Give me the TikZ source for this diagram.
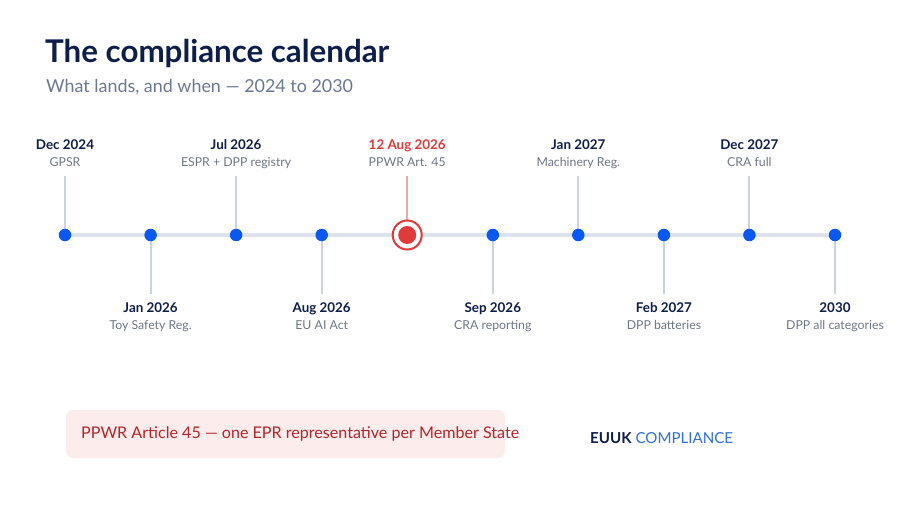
\documentclass[tikz,border=0pt]{standalone}
\usepackage{fontspec}
\setmainfont{Lato}
\usetikzlibrary{calc}
\definecolor{navy}{HTML}{0E1E4A}
\definecolor{subgray}{HTML}{6B7894}
\definecolor{lblgray}{HTML}{6E7689}
\definecolor{trackc}{HTML}{DDE3EC}
\definecolor{stemc}{HTML}{C9D3E1}
\definecolor{dotblue}{HTML}{0A58F0}
\definecolor{hired}{HTML}{E03A3A}
\definecolor{stemred}{HTML}{F2A7A7}
\definecolor{calloutbg}{HTML}{FDECEC}
\definecolor{callouttx}{HTML}{B3262B}
\definecolor{brandblue}{HTML}{2F6FE6}
\tikzset{
  dotnode/.style={circle,fill=dotblue,inner sep=0pt,minimum size=12.5pt},
  datelbl/.style={font=\fontsize{13.4}{15}\selectfont\bfseries,text=navy,inner sep=0pt,anchor=base},
  desclbl/.style={font=\fontsize{12.3}{14}\selectfont,text=lblgray,inner sep=0pt,anchor=base},
  stem/.style={draw=stemc,line width=2pt},
}
\begin{document}
\begin{tikzpicture}[x=1pt,y=-1pt]
\useasboundingbox[fill=white] (0,0) rectangle (900,506);
% title
\node[anchor=base west,inner sep=0pt,font=\fontsize{31.3}{34}\selectfont\bfseries,text=navy] (title) at (45,62) {The compliance calendar};
\node[anchor=base west,inner sep=0pt,font=\fontsize{17.9}{20}\selectfont,text=subgray] (subtitle) at (46,92) {What lands, and when — 2024 to 2030};
% track
\coordinate (tl) at (65,235);
\coordinate (tr) at (835,235);
\draw[trackc,line width=4pt] (tl) -- (tr);
% positions
\foreach \i/\x in {1/65,2/150.6,3/236.1,4/321.7,5/407.2,6/492.8,7/578.3,8/663.9,9/749.4,10/835}{
  \coordinate (p\i) at (\x,235);
}
% top stems
\foreach \i in {1,3,7,9}{
  \coordinate (s\i) at ($(p\i)+(0,-59)$);
  \draw[stem] (s\i) -- (p\i);
}
\foreach \i in {2,4,6,8,10}{
  \coordinate (s\i) at ($(p\i)+(0,59)$);
  \draw[stem] (p\i) -- (s\i);
}
\coordinate (s5) at ($(p5)+(0,-59)$);
\draw[stemred,line width=2pt] (s5) -- (p5);
% dots
\foreach \i in {1,2,3,4,6,7,8,9,10}{
  \node[dotnode] (d\i) at (p\i) {};
}
\node[circle,draw=hired,line width=2pt,fill=white,minimum size=29pt,inner sep=0pt] (ring) at (p5) {};
\node[circle,fill=hired,minimum size=18pt,inner sep=0pt] (d5) at (p5) {};
% top labels
\node[datelbl] (t1) at ($(p1)+(0,-86)$) {Dec 2024};
\node[desclbl] (u1) at ($(p1)+(0,-69)$) {GPSR};
\node[datelbl] (t3) at ($(p3)+(0,-86)$) {Jul 2026};
\node[desclbl] (u3) at ($(p3)+(0,-69)$) {ESPR + DPP registry};
\node[datelbl,text=hired] (t5) at ($(p5)+(0,-86)$) {12 Aug 2026};
\node[desclbl] (u5) at ($(p5)+(0,-69)$) {PPWR Art. 45};
\node[datelbl] (t7) at ($(p7)+(0,-86)$) {Jan 2027};
\node[desclbl] (u7) at ($(p7)+(0,-69)$) {Machinery Reg.};
\node[datelbl] (t9) at ($(p9)+(0,-86)$) {Dec 2027};
\node[desclbl] (u9) at ($(p9)+(0,-69)$) {CRA full};
% bottom labels
\node[datelbl] (t2) at ($(p2)+(0,77)$) {Jan 2026};
\node[desclbl] (u2) at ($(p2)+(0,94)$) {Toy Safety Reg.};
\node[datelbl] (t4) at ($(p4)+(0,77)$) {Aug 2026};
\node[desclbl] (u4) at ($(p4)+(0,94)$) {EU AI Act};
\node[datelbl] (t6) at ($(p6)+(0,77)$) {Sep 2026};
\node[desclbl] (u6) at ($(p6)+(0,94)$) {CRA reporting};
\node[datelbl] (t8) at ($(p8)+(0,77)$) {Feb 2027};
\node[desclbl] (u8) at ($(p8)+(0,94)$) {DPP batteries};
\node[datelbl] (t10) at ($(p10)+(0,77)$) {2030};
\node[desclbl] (u10) at ($(p10)+(0,94)$) {DPP all categories};
% callout
\fill[calloutbg,rounded corners=7pt] (66,410) rectangle (505,458);
\node[anchor=base west,inner sep=0pt,font=\fontsize{16.1}{18}\selectfont,text=callouttx] (callout) at (81,438) {PPWR Article 45 — one EPR representative per Member State};
% brand
\node[anchor=base west,inner sep=0pt,font=\fontsize{15.1}{17}\selectfont] (brand) at (590,443) {\textbf{\color{navy}EUUK} \color{brandblue}COMPLIANCE};
\end{tikzpicture}
\end{document}
